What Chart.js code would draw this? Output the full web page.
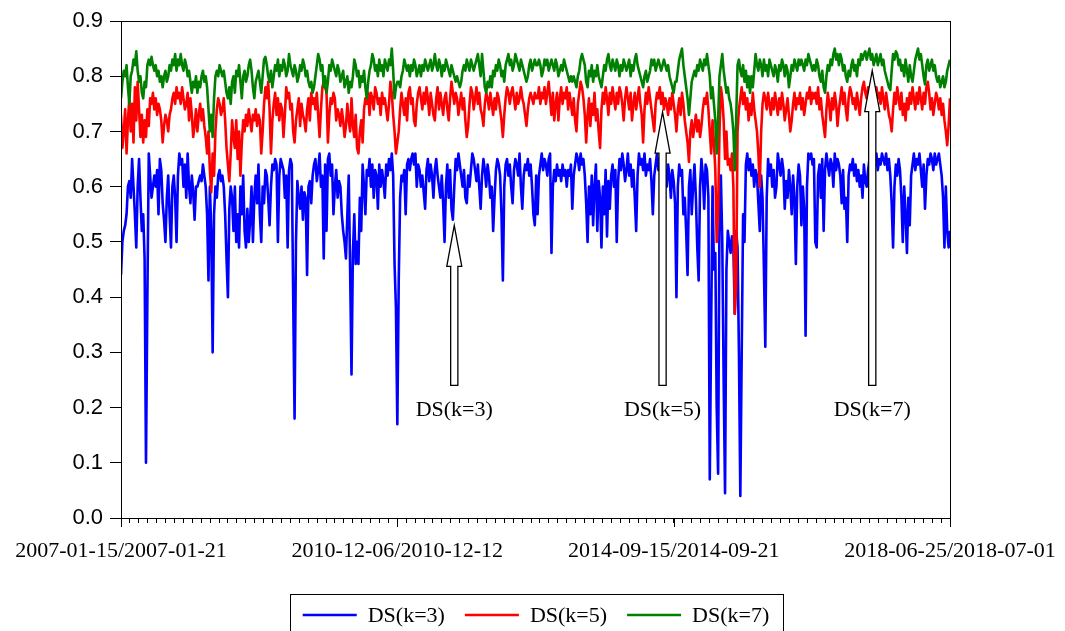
<!DOCTYPE html>
<html>
<head>
<meta charset="utf-8">
<title>DS(k) weekly</title>
<script src="https://cdn.jsdelivr.net/npm/chart.js@4.4.1/dist/chart.umd.min.js"></script>
<style>
  html, body { margin: 0; padding: 0; background: #fff; }
  #wrap { width: 1065px; height: 631px; }
</style>
</head>
<body>
<div id="wrap"><canvas id="chart" width="1065" height="631"></canvas></div>
<script>
// Weekly series, 2007-01-15 .. 2018-06-25 (598 weeks)

const ds3 = [
  // 2007-01 .. 2008-12
  0.44, 0.50, 0.52, 0.53, 0.55, 0.60, 0.61, 0.58, 0.65, 0.60,
  0.55, 0.49, 0.60, 0.65, 0.58, 0.52, 0.55, 0.47, 0.10, 0.40,
  0.66, 0.62, 0.58, 0.60, 0.62, 0.60, 0.63, 0.55, 0.65, 0.63,
  0.57, 0.54, 0.50, 0.58, 0.62, 0.55, 0.49, 0.60, 0.62, 0.58,
  0.50, 0.62, 0.66, 0.64, 0.65, 0.60, 0.64, 0.58, 0.66, 0.60,
  0.57, 0.62, 0.59, 0.54, 0.60, 0.60, 0.61, 0.62, 0.61, 0.64,
  0.62, 0.60, 0.55, 0.43, 0.60, 0.52, 0.30, 0.55, 0.60, 0.58,
  0.62, 0.63, 0.61, 0.62, 0.60, 0.55, 0.47, 0.40, 0.56, 0.60,
  0.58, 0.52, 0.60, 0.50, 0.55, 0.49, 0.60, 0.55, 0.62, 0.52,
  0.49, 0.56, 0.50, 0.54, 0.60, 0.50, 0.58, 0.62, 0.57, 0.64,
  // 2008-12 .. 2010-12
  0.55, 0.50, 0.60, 0.57, 0.63, 0.62, 0.58, 0.53, 0.60, 0.64,
  0.63, 0.65, 0.64, 0.50, 0.62, 0.65, 0.64, 0.63, 0.58, 0.62,
  0.49, 0.63, 0.65, 0.64, 0.40, 0.18, 0.50, 0.61, 0.58, 0.56,
  0.60, 0.54, 0.59, 0.58, 0.44, 0.60, 0.61, 0.57, 0.62, 0.64,
  0.65, 0.61, 0.63, 0.66, 0.60, 0.62, 0.47, 0.64, 0.52, 0.65,
  0.66, 0.62, 0.64, 0.55, 0.60, 0.63, 0.58, 0.61, 0.60, 0.55,
  0.52, 0.50, 0.47, 0.55, 0.62, 0.45, 0.26, 0.48, 0.55, 0.46,
  0.50, 0.46, 0.58, 0.52, 0.64, 0.60, 0.55, 0.63, 0.62, 0.65,
  0.60, 0.64, 0.58, 0.63, 0.62, 0.56, 0.64, 0.60, 0.63, 0.61,
  0.58, 0.64, 0.62, 0.65, 0.63, 0.66, 0.62, 0.46, 0.38, 0.17,
  // 2010-12 .. 2012-11
  0.43, 0.58, 0.62, 0.61, 0.63, 0.55, 0.64, 0.65, 0.63, 0.65,
  0.66, 0.64, 0.66, 0.60, 0.64, 0.63, 0.60, 0.62, 0.59, 0.56,
  0.63, 0.65, 0.61, 0.64, 0.62, 0.58, 0.63, 0.65, 0.62, 0.60,
  0.58, 0.62, 0.57, 0.50, 0.60, 0.64, 0.58, 0.63, 0.56, 0.54,
  0.60, 0.65, 0.63, 0.66, 0.64, 0.62, 0.60, 0.63, 0.58, 0.57,
  0.62, 0.60, 0.63, 0.66, 0.65, 0.63, 0.61, 0.64, 0.60, 0.56,
  0.62, 0.65, 0.63, 0.60, 0.64, 0.62, 0.58, 0.60, 0.52, 0.58,
  0.63, 0.65, 0.64, 0.62, 0.55, 0.43, 0.60, 0.64, 0.65, 0.62,
  0.64, 0.60, 0.57, 0.63, 0.65, 0.64, 0.62, 0.66, 0.60, 0.56,
  0.62, 0.64, 0.63, 0.65, 0.62, 0.64, 0.60, 0.55, 0.53, 0.62,
  // 2012-11 .. 2014-10
  0.55, 0.62, 0.64, 0.66, 0.63, 0.65, 0.64, 0.62, 0.65, 0.66,
  0.48, 0.60, 0.63, 0.61, 0.64, 0.62, 0.63, 0.61, 0.64, 0.62,
  0.63, 0.60, 0.63, 0.62, 0.64, 0.56, 0.62, 0.64, 0.66, 0.65,
  0.63, 0.66, 0.64, 0.65, 0.62, 0.57, 0.50, 0.60, 0.55, 0.62,
  0.53, 0.60, 0.64, 0.52, 0.61, 0.58, 0.49, 0.60, 0.55, 0.63,
  0.51, 0.61, 0.56, 0.62, 0.64, 0.60, 0.63, 0.50, 0.61, 0.65,
  0.63, 0.66, 0.64, 0.61, 0.63, 0.66, 0.62, 0.64, 0.60, 0.63,
  0.58, 0.52, 0.62, 0.66, 0.64, 0.65, 0.63, 0.66, 0.62, 0.64,
  0.63, 0.65, 0.61, 0.55, 0.62, 0.64, 0.66, 0.63, 0.65, 0.62,
  0.64, 0.61, 0.63, 0.60, 0.64, 0.62, 0.58, 0.63, 0.61, 0.57,
  // 2014-10 .. 2016-09
  0.40, 0.60, 0.64, 0.62, 0.63, 0.55, 0.58, 0.52, 0.44, 0.60,
  0.63, 0.55, 0.60, 0.64, 0.58, 0.49, 0.43, 0.60, 0.65, 0.62,
  0.56, 0.64, 0.63, 0.58, 0.07, 0.35, 0.60, 0.45, 0.48, 0.20,
  0.08, 0.55, 0.62, 0.50, 0.25, 0.045, 0.45, 0.52, 0.50, 0.48,
  0.51, 0.49, 0.37, 0.52, 0.49, 0.30, 0.04, 0.30, 0.55, 0.50,
  0.64, 0.66, 0.63, 0.65, 0.62, 0.64, 0.60, 0.63, 0.62, 0.57,
  0.52, 0.62, 0.58, 0.45, 0.31, 0.58, 0.65, 0.62, 0.64, 0.60,
  0.63, 0.58, 0.60, 0.66, 0.64, 0.62, 0.65, 0.63, 0.56, 0.61,
  0.58, 0.63, 0.60, 0.55, 0.62, 0.58, 0.46, 0.60, 0.64, 0.62,
  0.53, 0.60, 0.56, 0.33, 0.60, 0.66, 0.65, 0.66, 0.64, 0.65,
  // 2016-09 .. 2018-06
  0.50, 0.49, 0.62, 0.64, 0.58, 0.65, 0.52, 0.63, 0.66, 0.64,
  0.62, 0.65, 0.64, 0.60, 0.66, 0.63, 0.65, 0.64, 0.62, 0.57,
  0.63, 0.56, 0.58, 0.50, 0.62, 0.64, 0.63, 0.65, 0.62, 0.64,
  0.61, 0.63, 0.60, 0.62, 0.58, 0.64, 0.61, 0.60, 0.63, 0.65,
  0.64, 0.66, 0.65, 0.64, 0.66, 0.63, 0.65, 0.64, 0.66, 0.65,
  0.64, 0.66, 0.63, 0.65, 0.62, 0.57, 0.49, 0.60, 0.64, 0.62,
  0.65, 0.63, 0.58, 0.50, 0.60, 0.55, 0.48, 0.58, 0.53, 0.62,
  0.64, 0.66, 0.63, 0.65, 0.64, 0.66, 0.63, 0.60, 0.64, 0.56,
  0.62, 0.65, 0.64, 0.66, 0.65, 0.63, 0.66, 0.64, 0.65, 0.66,
  0.64, 0.62, 0.58, 0.49, 0.60, 0.52, 0.49, 0.52
];

const ds5 = [
  0.73, 0.67, 0.70, 0.74, 0.66, 0.72, 0.76, 0.70, 0.75, 0.68,
  0.78, 0.72, 0.79, 0.74, 0.69, 0.73, 0.68, 0.72, 0.69, 0.74,
  0.71, 0.76, 0.75, 0.77, 0.74, 0.76, 0.73, 0.75, 0.74, 0.72,
  0.68, 0.71, 0.73, 0.72, 0.70, 0.73, 0.74, 0.76, 0.77, 0.75,
  0.78, 0.76, 0.77, 0.75, 0.78, 0.76, 0.74, 0.75, 0.77, 0.72,
  0.76, 0.73, 0.69, 0.71, 0.74, 0.70, 0.73, 0.75, 0.72, 0.74,
  0.71, 0.69, 0.66, 0.70, 0.63, 0.59, 0.66, 0.62, 0.70, 0.74,
  0.76, 0.75, 0.73, 0.74, 0.76, 0.72, 0.67, 0.64, 0.61, 0.66,
  0.72, 0.69, 0.67, 0.72, 0.65, 0.70, 0.62, 0.68, 0.72, 0.70,
  0.73, 0.71, 0.74, 0.72, 0.70, 0.73, 0.72, 0.74, 0.71, 0.73,

  0.72, 0.66, 0.70, 0.75, 0.78, 0.76, 0.79, 0.74, 0.66, 0.72,
  0.75, 0.77, 0.73, 0.76, 0.72, 0.75, 0.74, 0.69, 0.73, 0.78,
  0.76, 0.77, 0.74, 0.75, 0.70, 0.68, 0.72, 0.74, 0.76, 0.71,
  0.75, 0.73, 0.72, 0.70, 0.74, 0.76, 0.72, 0.77, 0.75, 0.76,
  0.74, 0.77, 0.73, 0.69, 0.74, 0.78, 0.79, 0.78, 0.77, 0.68,
  0.73, 0.76, 0.75, 0.77, 0.76, 0.72, 0.74, 0.73, 0.71, 0.74,
  0.72, 0.69, 0.71, 0.75, 0.72, 0.70, 0.76, 0.71, 0.69, 0.73,
  0.67, 0.66, 0.70, 0.72, 0.68, 0.74, 0.76, 0.75, 0.77, 0.73,
  0.77, 0.76, 0.74, 0.78, 0.77, 0.75, 0.76, 0.73, 0.77, 0.75,
  0.76, 0.74, 0.72, 0.75, 0.79, 0.77, 0.73, 0.70, 0.66, 0.68,

  0.70, 0.74, 0.77, 0.75, 0.73, 0.76, 0.72, 0.77, 0.78, 0.75,
  0.76, 0.72, 0.71, 0.75, 0.77, 0.78, 0.76, 0.74, 0.77, 0.75,
  0.78, 0.76, 0.73, 0.77, 0.75, 0.73, 0.72, 0.76, 0.78, 0.74,
  0.77, 0.75, 0.73, 0.76, 0.77, 0.74, 0.72, 0.76, 0.79, 0.77,
  0.75, 0.77, 0.76, 0.73, 0.75, 0.77, 0.74, 0.76, 0.72, 0.69,
  0.71, 0.75, 0.78, 0.77, 0.74, 0.76, 0.78, 0.75, 0.77, 0.74,
  0.73, 0.71, 0.75, 0.77, 0.76, 0.74, 0.77, 0.75, 0.73, 0.76,
  0.74, 0.77, 0.76, 0.74, 0.72, 0.69, 0.73, 0.76, 0.78, 0.77,
  0.75, 0.77, 0.78, 0.76, 0.74, 0.77, 0.75, 0.76, 0.78, 0.76,
  0.75, 0.73, 0.71, 0.74, 0.76, 0.77, 0.76, 0.75, 0.77, 0.76,

  0.76, 0.78, 0.75, 0.77, 0.76, 0.78, 0.75, 0.77, 0.79, 0.76,
  0.73, 0.77, 0.72, 0.75, 0.77, 0.72, 0.76, 0.78, 0.75, 0.77,
  0.76, 0.78, 0.74, 0.77, 0.75, 0.73, 0.76, 0.72, 0.70, 0.75,
  0.77, 0.79, 0.78, 0.76, 0.73, 0.68, 0.73, 0.76, 0.71, 0.75,
  0.73, 0.77, 0.72, 0.74, 0.70, 0.67, 0.74, 0.77, 0.75, 0.78,
  0.76, 0.73, 0.77, 0.75, 0.78, 0.76, 0.74, 0.77, 0.75, 0.78,
  0.77, 0.75, 0.72, 0.76, 0.78, 0.76, 0.74, 0.77, 0.72, 0.75,
  0.77, 0.74, 0.76, 0.78, 0.75, 0.73, 0.68, 0.74, 0.77, 0.75,
  0.78, 0.76, 0.74, 0.72, 0.70, 0.75, 0.77, 0.76, 0.78, 0.75,
  0.77, 0.74, 0.76, 0.75, 0.73, 0.76, 0.74, 0.77, 0.75, 0.73,

  0.70, 0.74, 0.76, 0.73, 0.77, 0.75, 0.72, 0.70, 0.68, 0.645,
  0.70, 0.72, 0.69, 0.71, 0.73, 0.70, 0.72, 0.69, 0.71, 0.74,
  0.76, 0.75, 0.77, 0.74, 0.70, 0.66, 0.72, 0.68, 0.63, 0.50,
  0.55, 0.70, 0.78, 0.76, 0.72, 0.65, 0.70, 0.64, 0.65, 0.63,
  0.66, 0.60, 0.37, 0.42, 0.70, 0.74, 0.76, 0.78, 0.75, 0.77,
  0.74, 0.76, 0.72, 0.75, 0.73, 0.77, 0.74, 0.72, 0.70, 0.66,
  0.60, 0.70, 0.75, 0.77, 0.76, 0.74, 0.77, 0.75, 0.73, 0.76,
  0.74, 0.77, 0.75, 0.73, 0.76, 0.74, 0.77, 0.75, 0.72, 0.74,
  0.76, 0.73, 0.70, 0.72, 0.75, 0.77, 0.74, 0.76, 0.75, 0.77,
  0.74, 0.76, 0.73, 0.75, 0.77, 0.76, 0.78, 0.75, 0.77, 0.76,

  0.77, 0.75, 0.78, 0.74, 0.76, 0.73, 0.71, 0.69, 0.74, 0.77,
  0.75, 0.72, 0.76, 0.74, 0.77, 0.75, 0.71, 0.74, 0.76, 0.78,
  0.75, 0.77, 0.74, 0.72, 0.76, 0.78, 0.77, 0.75, 0.76, 0.74,
  0.77, 0.75, 0.73, 0.76, 0.78, 0.79, 0.77, 0.76, 0.78, 0.75,
  0.77, 0.76, 0.74, 0.77, 0.78, 0.76, 0.77, 0.75, 0.78, 0.76,
  0.74, 0.77, 0.75, 0.73, 0.72, 0.70, 0.74, 0.77, 0.75, 0.78,
  0.76, 0.74, 0.77, 0.73, 0.75, 0.72, 0.76, 0.74, 0.77, 0.75,
  0.78, 0.76, 0.74, 0.77, 0.75, 0.78, 0.76, 0.74, 0.77, 0.75,
  0.78, 0.79, 0.77, 0.74, 0.76, 0.73, 0.75, 0.77, 0.76, 0.74,
  0.76, 0.73, 0.75, 0.72, 0.70, 0.675, 0.71, 0.76
];

const ds7 = [
  0.76, 0.79, 0.81, 0.80, 0.82, 0.78, 0.75, 0.80, 0.81, 0.83,
  0.82, 0.845, 0.81, 0.79, 0.80, 0.77, 0.76, 0.79, 0.78, 0.82,
  0.83, 0.82, 0.835, 0.82, 0.81, 0.82, 0.80, 0.81, 0.79, 0.80,
  0.78, 0.80, 0.81, 0.79, 0.80, 0.82, 0.81, 0.83, 0.82, 0.84,
  0.81, 0.83, 0.82, 0.84, 0.82, 0.81, 0.83, 0.82, 0.80, 0.81,
  0.79, 0.77, 0.79, 0.78, 0.80, 0.77, 0.79, 0.78, 0.80, 0.81,
  0.79, 0.80, 0.78, 0.74, 0.70, 0.73, 0.69, 0.76, 0.80, 0.81,
  0.80, 0.82, 0.81, 0.80, 0.81, 0.79, 0.77, 0.76, 0.78, 0.75,
  0.79, 0.80, 0.77, 0.81, 0.80, 0.82, 0.79, 0.76, 0.80, 0.81,
  0.79, 0.80, 0.82, 0.83, 0.81, 0.78, 0.76, 0.79, 0.80, 0.81,

  0.79, 0.77, 0.80, 0.83, 0.835, 0.82, 0.80, 0.79, 0.81, 0.78,
  0.80, 0.82, 0.81, 0.83, 0.80, 0.82, 0.81, 0.83, 0.82, 0.80,
  0.81, 0.84, 0.82, 0.81, 0.80, 0.82, 0.81, 0.79, 0.80, 0.82,
  0.81, 0.83, 0.82, 0.80, 0.81, 0.79, 0.78, 0.79, 0.77, 0.78,
  0.80, 0.82, 0.84, 0.83, 0.81, 0.82, 0.78, 0.80, 0.77, 0.79,
  0.82, 0.81, 0.83, 0.82, 0.81, 0.80, 0.82, 0.81, 0.79, 0.80,
  0.81, 0.78, 0.79, 0.80, 0.77, 0.79, 0.78, 0.80, 0.83, 0.82,
  0.80, 0.81, 0.78, 0.80, 0.79, 0.81, 0.78, 0.76, 0.79, 0.81,
  0.82, 0.84, 0.83, 0.81, 0.82, 0.80, 0.83, 0.81, 0.82, 0.80,
  0.83, 0.82, 0.81, 0.83, 0.82, 0.85, 0.81, 0.76, 0.78, 0.79,

  0.79, 0.78, 0.80, 0.81, 0.83, 0.82, 0.81, 0.82, 0.80, 0.82,
  0.81, 0.83, 0.82, 0.80, 0.81, 0.82, 0.80, 0.82, 0.81, 0.83,
  0.82, 0.81, 0.82, 0.83, 0.81, 0.82, 0.84, 0.82, 0.81, 0.83,
  0.82, 0.80, 0.82, 0.81, 0.83, 0.82, 0.81, 0.80, 0.82, 0.81,
  0.80, 0.79, 0.80, 0.79, 0.78, 0.79, 0.81, 0.82, 0.81, 0.83,
  0.82, 0.81, 0.83, 0.82, 0.81, 0.82, 0.83, 0.84, 0.82, 0.80,
  0.84, 0.81, 0.78, 0.77, 0.79, 0.78, 0.80, 0.78, 0.81, 0.80,
  0.82, 0.81, 0.83, 0.82, 0.80, 0.81, 0.79, 0.82, 0.83, 0.84,
  0.82, 0.83, 0.81, 0.82, 0.84, 0.83, 0.82, 0.81, 0.83, 0.82,
  0.81, 0.80, 0.79, 0.80, 0.82, 0.83, 0.81, 0.82, 0.83, 0.82,

  0.82, 0.83, 0.82, 0.80, 0.81, 0.83, 0.82, 0.83, 0.81, 0.82,
  0.83, 0.82, 0.81, 0.83, 0.82, 0.80, 0.81, 0.82, 0.81, 0.83,
  0.82, 0.81, 0.80, 0.79, 0.80, 0.79, 0.80, 0.79, 0.78, 0.80,
  0.81, 0.83, 0.84, 0.83, 0.82, 0.79, 0.78, 0.81, 0.80, 0.82,
  0.79, 0.81, 0.80, 0.82, 0.80, 0.79, 0.78, 0.80, 0.82, 0.81,
  0.83, 0.84, 0.82, 0.81, 0.83, 0.82, 0.81, 0.83, 0.82, 0.80,
  0.82, 0.81, 0.83, 0.82, 0.81, 0.82, 0.83, 0.80, 0.82, 0.81,
  0.83, 0.84, 0.82, 0.81, 0.80, 0.79, 0.78, 0.80, 0.81, 0.79,
  0.80, 0.81, 0.83, 0.82, 0.83, 0.81, 0.82, 0.83, 0.82, 0.81,
  0.82, 0.83, 0.82, 0.81, 0.82, 0.80, 0.79, 0.78, 0.77, 0.79,

  0.79, 0.81, 0.83, 0.84, 0.85, 0.82, 0.80, 0.78, 0.76, 0.73,
  0.76, 0.79, 0.80, 0.81, 0.80, 0.82, 0.81, 0.83, 0.82, 0.81,
  0.83, 0.82, 0.84, 0.82, 0.80, 0.76, 0.78, 0.75, 0.72, 0.66,
  0.72, 0.80, 0.82, 0.84, 0.81, 0.79, 0.77, 0.78, 0.76, 0.75,
  0.73, 0.70, 0.63, 0.72, 0.82, 0.83, 0.81, 0.80, 0.82, 0.79,
  0.81, 0.78, 0.80, 0.77, 0.80, 0.78, 0.81, 0.84, 0.82, 0.81,
  0.83, 0.82, 0.80, 0.83, 0.81, 0.82, 0.80, 0.83, 0.82, 0.81,
  0.80, 0.82, 0.81, 0.79, 0.82, 0.81, 0.83, 0.82, 0.80, 0.82,
  0.81, 0.78, 0.80, 0.82, 0.81, 0.83, 0.82, 0.81, 0.83, 0.82,
  0.83, 0.82, 0.81, 0.83, 0.82, 0.84, 0.83, 0.82, 0.81, 0.82,

  0.81, 0.83, 0.82, 0.80, 0.79, 0.81, 0.78, 0.77, 0.80, 0.82,
  0.81, 0.83, 0.82, 0.84, 0.85, 0.83, 0.84, 0.82, 0.84, 0.83,
  0.81, 0.82, 0.80, 0.79, 0.81, 0.80, 0.82, 0.83, 0.81, 0.82,
  0.80, 0.83, 0.82, 0.84, 0.83, 0.84, 0.845, 0.83, 0.84, 0.85,
  0.83, 0.84, 0.82, 0.83, 0.84, 0.82, 0.83, 0.84, 0.82, 0.83,
  0.81, 0.80, 0.79, 0.78, 0.775, 0.81, 0.84, 0.83, 0.845, 0.84,
  0.82, 0.83, 0.81, 0.82, 0.80, 0.83, 0.81, 0.79, 0.82, 0.80,
  0.79, 0.81, 0.83, 0.84, 0.85, 0.83, 0.84, 0.82, 0.80, 0.785,
  0.82, 0.83, 0.81, 0.82, 0.83, 0.81, 0.82, 0.80, 0.79, 0.80,
  0.78, 0.79, 0.80, 0.78, 0.79, 0.81, 0.82, 0.83
];

const seriesNames = ['DS(k=3)', 'DS(k=5)', 'DS(k=7)'];
const seriesColors = ['#0000ff', '#ff0000', '#008000'];
const xTickLabels = ['2007-01-15/2007-01-21', '2010-12-06/2010-12-12', '2014-09-15/2014-09-21', '2018-06-25/2018-07-01'];
const yTicks = [0.0, 0.1, 0.2, 0.3, 0.4, 0.5, 0.6, 0.7, 0.8, 0.9];

// arrow callouts: week index of the arrow, value at its tip
const calloutIdx = [240, 390, 541];
const calloutTip = [0.53, 0.735, 0.81];
const calloutBase = 0.24;
const calloutTextAt = 0.195;

const N = ds3.length;
const MINOR_STEPS = 93;
const MAJOR_EVERY = 31;

const SERIF = '"Liberation Serif", "Times New Roman", serif';
const SANS = '"Liberation Sans", Arial, sans-serif';

function toPoints(arr) {
    return arr.map((v, i) => ({ x: i, y: v }));
}

// Frame, long major ticks, arrows and boxed legend
const decorPlugin = {
    id: 'decor',
    afterDatasetsDraw(chart) {
        const { ctx, scales } = chart;
        const xs = scales.x, ys = scales.y;
        ctx.save();
        ctx.lineWidth = 1.3;
        ctx.strokeStyle = '#000';
        ctx.fillStyle = '#fff';
        const yBase = ys.getPixelForValue(calloutBase);
        calloutIdx.forEach((idx, k) => {
            const x = xs.getPixelForValue(idx);
            const yTip = ys.getPixelForValue(calloutTip[k]);
            const headH = 41, headW = 7.5, shaftW = 3.6;
            ctx.beginPath();
            ctx.moveTo(x, yTip);
            ctx.lineTo(x + headW, yTip + headH);
            ctx.lineTo(x + shaftW, yTip + headH);
            ctx.lineTo(x + shaftW, yBase);
            ctx.lineTo(x - shaftW, yBase);
            ctx.lineTo(x - shaftW, yTip + headH);
            ctx.lineTo(x - headW, yTip + headH);
            ctx.closePath();
            ctx.fill();
            ctx.stroke();

            ctx.fillStyle = '#000';
            ctx.font = '22px ' + SERIF;
            ctx.textAlign = 'center';
            ctx.textBaseline = 'middle';
            ctx.fillText(seriesNames[k], x, ys.getPixelForValue(calloutTextAt));
            ctx.fillStyle = '#fff';
        });
        ctx.restore();
    },
    afterDraw(chart) {
        const { ctx, chartArea: a, scales } = chart;
        ctx.save();
        ctx.strokeStyle = '#000';
        ctx.lineWidth = 1;
        ctx.strokeRect(Math.round(a.left) + 0.5, Math.round(a.top) + 0.5,
            Math.round(a.right - a.left), Math.round(a.bottom - a.top));

        // longer marks under the labelled weeks
        for (let k = 0; k <= MINOR_STEPS; k += MAJOR_EVERY) {
            const px = Math.round(scales.x.getPixelForValue(k * (N - 1) / MINOR_STEPS)) + 0.5;
            ctx.beginPath();
            ctx.moveTo(px, a.bottom);
            ctx.lineTo(px, a.bottom + 9);
            ctx.stroke();
        }

        // legend box
        ctx.font = '22px ' + SERIF;
        const lineLen = 54, textGap = 11, itemGap = 20, boxPad = 13;
        const widths = seriesNames.map(n => ctx.measureText(n).width);
        let total = 0;
        widths.forEach((w, i) => { total += lineLen + textGap + w + (i < widths.length - 1 ? itemGap : 0); });
        const cx = 536;
        let x = cx - total / 2;
        const boxTop = 594.5, midY = 615;
        ctx.strokeRect(Math.round(x - boxPad) + 0.5, boxTop, Math.round(total + 2 * boxPad), 60);
        chart.data.datasets.forEach((ds, i) => {
            ctx.strokeStyle = ds.borderColor;
            ctx.lineWidth = 2.5;
            ctx.beginPath();
            ctx.moveTo(x, midY);
            ctx.lineTo(x + lineLen, midY);
            ctx.stroke();
            ctx.fillStyle = '#000';
            ctx.textAlign = 'left';
            ctx.textBaseline = 'middle';
            ctx.fillText(ds.label, x + lineLen + textGap, midY + 1);
            x += lineLen + textGap + widths[i] + itemGap;
        });
        ctx.restore();
    }
};

const datasets = [ds3, ds5, ds7].map((arr, i) => ({
    label: seriesNames[i],
    data: toPoints(arr),
    borderColor: seriesColors[i],
    backgroundColor: seriesColors[i],
    borderWidth: 2.6,
    borderJoinStyle: 'round',
    pointRadius: 0,
    tension: 0,
    fill: false,
    order: 3 - i
}));

new Chart(document.getElementById('chart'), {
    type: 'line',
    data: { datasets: datasets },
    options: {
        responsive: false,
        animation: false,
        layout: { padding: { top: 21, right: 115, left: 0, bottom: 0 } },
        plugins: {
            legend: { display: false },
            tooltip: { enabled: false }
        },
        scales: {
            x: {
                type: 'linear',
                min: 0,
                max: N - 1,
                border: { display: false },
                grid: { drawOnChartArea: false, drawTicks: true, tickLength: 5, color: '#000', lineWidth: 1 },
                afterBuildTicks: (scale) => {
                    const t = [];
                    for (let k = 0; k <= MINOR_STEPS; k++) t.push({ value: k * (N - 1) / MINOR_STEPS });
                    scale.ticks = t;
                },
                afterFit: (scale) => {
                    scale.height = 113;
                    scale.paddingLeft = 0;
                    scale.paddingRight = 0;
                },
                ticks: {
                    autoSkip: false,
                    maxRotation: 0,
                    minRotation: 0,
                    padding: 15,
                    color: '#000',
                    font: { family: SERIF, size: 22 },
                    callback: (value, index) => index % MAJOR_EVERY === 0 ? xTickLabels[index / MAJOR_EVERY] : ''
                }
            },
            y: {
                min: 0,
                max: 0.9,
                border: { display: false },
                grid: { drawOnChartArea: false, drawTicks: true, tickLength: 11, color: '#000', lineWidth: 1 },
                afterBuildTicks: (scale) => { scale.ticks = yTicks.map(v => ({ value: v })); },
                afterFit: (scale) => { scale.width = 121; },
                ticks: {
                    padding: 7,
                    color: '#000',
                    font: { family: SANS, size: 22 },
                    callback: (value) => value.toFixed(1)
                }
            }
        }
    },
    plugins: [decorPlugin]
});
</script>
</body>
</html>
